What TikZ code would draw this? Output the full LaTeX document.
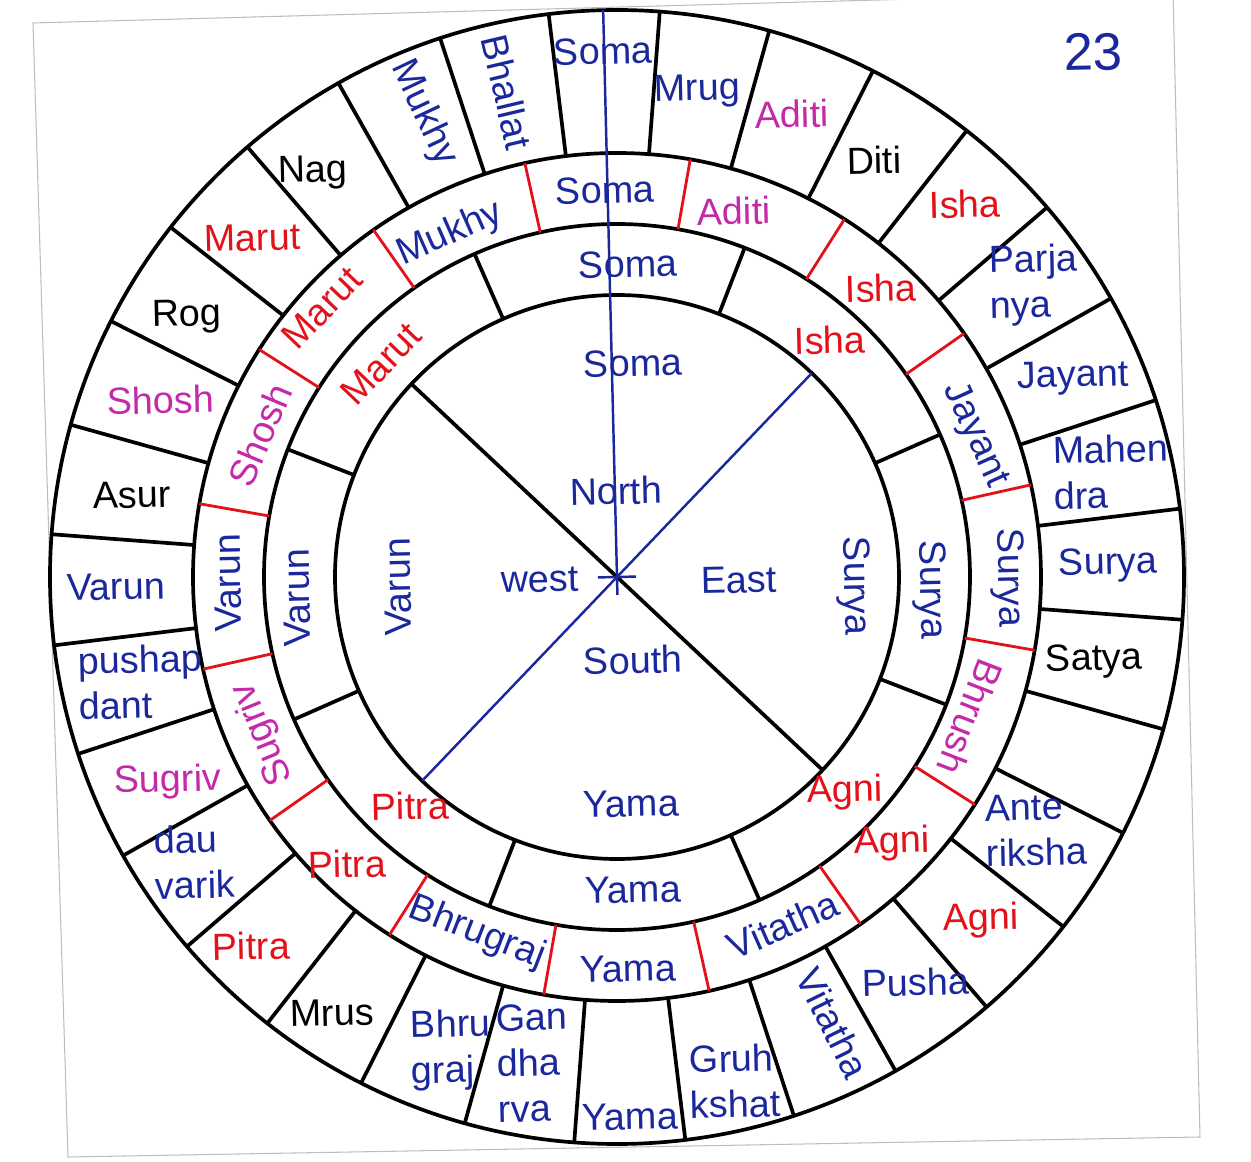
\documentclass[tikz,border=0pt]{standalone}
\usepackage{fontspec}
\setmainfont{Liberation Sans}
\usepackage{xcolor}
\definecolor{inkblue}{HTML}{1A289C}
\definecolor{inkred}{HTML}{E3121A}
\definecolor{inkpink}{HTML}{C42AA8}
\definecolor{cardedge}{HTML}{BDBDBD}
\tikzset{
  cell/.style={font=\fontsize{21.5}{26}\selectfont, inner sep=0pt, align=left, rotate=1.3},
  bluecell/.style={cell, text=inkblue},
  redcell/.style={cell, text=inkred},
  pinkcell/.style={cell, text=inkpink},
  blackcell/.style={cell, text=black},
  ring/.style={draw=black, line width=2.1pt},
  reddiv/.style={draw=inkred, line width=1.6pt},
  dirline/.style={draw=inkblue, line width=1.4pt},
  card/.style={draw=cardedge, line width=0.6pt}
}

\begin{document}
\begin{tikzpicture}[x=0.2mm, y=0.2mm]
  \useasboundingbox (-617,-585) rectangle (634,577);
  \draw[card] (-584,554) -- (556,585) -- (583,-560) -- (-549,-580) -- cycle;

  \foreach \r in {567,424,353,282} \draw[ring] (0,0) circle (\r);
  \foreach \k [evaluate=\k as \a using 96.925-11.25*\k] in {0,...,31} \draw[ring] (\a:424) -- (\a:567);
  \foreach \k [evaluate=\k as \a using 80.05-22.5*\k] in {0,...,15} \draw[reddiv] (\a:353) -- (\a:424);
  \foreach \k [evaluate=\k as \a using 68.8-45*\k] in {0,...,7} \draw[ring] (\a:282) -- (\a:353);

  \draw[ring] (136.8:282) -- (316.8:282);
  \draw[dirline] (46.3:282) -- (226.3:282);
  \draw[dirline] (91.4:567) -- (271.4:18);
  \draw[dirline] (181.3:19) -- (1.3:19);

  \node[bluecell] (osoma) at (-14,526) {Soma};
  \node[bluecell] (omrug) at (80,486) {Mrug};
  \node[pinkcell] (oaditi) at (175,463) {Aditi};
  \node[blackcell] (oditi) at (257,417) {Diti};
  \node[redcell] (oisha) at (348,373) {Isha};
  \node[bluecell] (oparjanya) at (417,292) {Parja\\nya};
  \node[bluecell] (ojayant) at (456,199) {Jayant};
  \node[bluecell] (omahendra) at (494,105) {Mahen\\dra};
  \node[bluecell] (osurya) at (491,12) {Surya};
  \node[blackcell] (osatya) at (477,-84) {Satya};
  \node[bluecell] (oantariksha) at (419,-253) {Ante\\riksha};
  \node[redcell] (oagni) at (364,-343) {Agni};
  \node[bluecell] (opusha) at (299,-405) {Pusha};
  \node[bluecell, rotate=-65] (ovitatha) at (216,-446) {Vitatha};
  \node[bluecell] (ogruhkshat) at (118,-504) {Gruh\\kshat};
  \node[bluecell] (oyama) at (13,-540) {Yama};
  \node[bluecell] (ogandharva) at (-84,-486) {Gan\\dha\\rva};
  \node[bluecell] (obhrugraj) at (-166,-473) {Bhru\\graj};
  \node[blackcell] (omrus) at (-285,-436) {Mrus};
  \node[redcell] (opitra) at (-366,-369) {Pitra};
  \node[bluecell] (odauvarik) at (-422,-285) {dau\\varik};
  \node[pinkcell] (osugriv) at (-449,-205) {Sugriv};
  \node[bluecell] (opushpadant) at (-476,-105) {pushap\\dant};
  \node[bluecell] (ovarun) at (-501,-10) {Varun};
  \node[blackcell] (oasur) at (-485,82) {Asur};
  \node[pinkcell] (oshosh) at (-456,177) {Shosh};
  \node[blackcell] (orog) at (-430,260) {Rog};
  \node[redcell] (omarut) at (-365,339) {Marut};
  \node[blackcell] (onag) at (-304,404) {Nag};
  \node[bluecell, rotate=-66] (omukhy) at (-193,464) {Mukhy};
  \node[bluecell, rotate=-78] (obhallat) at (-110,485) {Bhallat};

  \node[bluecell] (msoma) at (-12,387) {Soma};
  \node[pinkcell] (maditi) at (117,366) {Aditi};
  \node[redcell] (misha) at (264,289) {Isha};
  \node[bluecell, rotate=-67] (mjayant) at (358,142) {Jayant};
  \node[bluecell, rotate=-90] (msurya) at (391,-1) {Surya};
  \node[pinkcell, rotate=-112.5] (mbhrush) at (353,-140) {Bhrush};
  \node[redcell] (magni) at (275,-266) {Agni};
  \node[bluecell, rotate=22.5] (mvitatha) at (166,-348) {Vitatha};
  \node[bluecell] (myama) at (11,-392) {Yama};
  \node[bluecell, rotate=-22.5] (mbhrugraj) at (-140,-356) {Bhrugraj};
  \node[redcell] (mpitra) at (-270,-287) {Pitra};
  \node[pinkcell, rotate=111] (msugriv) at (-354,-157) {Sugriv};
  \node[bluecell, rotate=90] (mvarun) at (-389,-6) {Varun};
  \node[pinkcell, rotate=66] (mshosh) at (-357,142) {Shosh};
  \node[redcell, rotate=45] (mmarut) at (-295,269) {Marut};
  \node[bluecell, rotate=22.5] (mmukhy) at (-167,343) {Mukhy};

  \node[bluecell] (isoma) at (11,313) {Soma};
  \node[redcell] (iisha) at (213,237) {Isha};
  \node[bluecell, rotate=-90] (isurya) at (313,-13) {Surya};
  \node[redcell] (iagni) at (228,-215) {Agni};
  \node[bluecell] (iyama) at (16,-313) {Yama};
  \node[redcell] (ipitra) at (-207,-229) {Pitra};
  \node[bluecell, rotate=90] (ivarun) at (-320,-21) {Varun};
  \node[redcell, rotate=45] (imarut) at (-236,213) {Marut};

  \node[bluecell] (csoma) at (16,214) {Soma};
  \node[bluecell] (cnorth) at (-1,86) {North};
  \node[bluecell] (cwest) at (-77,-3) {west};
  \node[bluecell] (ceast) at (122,-3) {East};
  \node[bluecell] (csouth) at (16,-83) {South};
  \node[bluecell] (cyama) at (14,-227) {Yama};
  \node[bluecell, rotate=90] (cvarun) at (-219,-10) {Varun};
  \node[bluecell, rotate=-90] (csurya) at (237,-9) {Surya};

  \node[bluecell, font=\fontsize{30}{36}\selectfont] (plate) at (476,525) {23};
\end{tikzpicture}
\end{document}
